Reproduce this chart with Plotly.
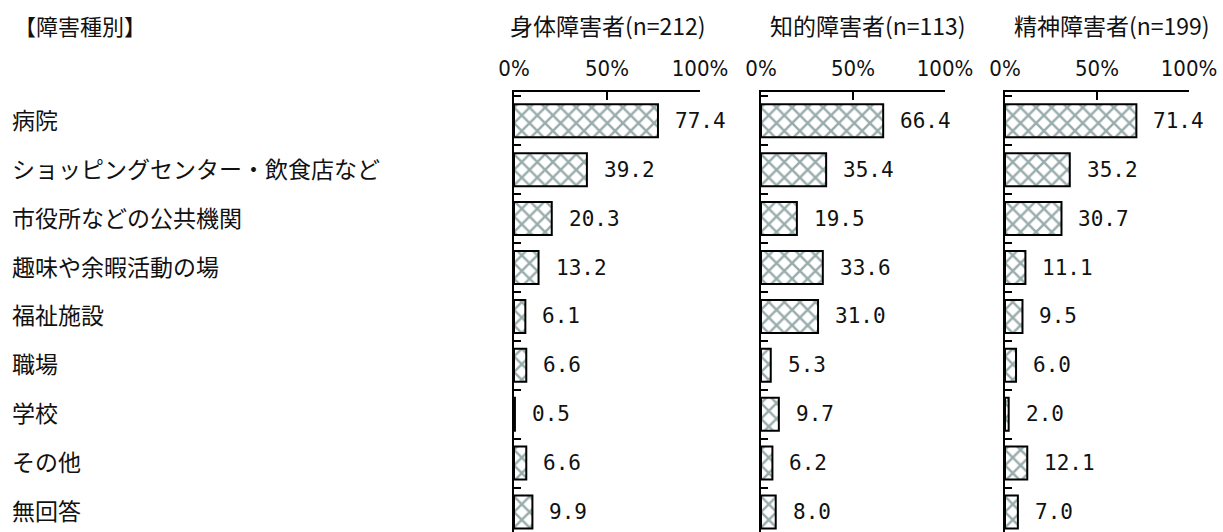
import plotly.graph_objects as go

# 項目
categories = ["病院", "ショッピングセンター・飲食店など", "市役所などの公共機関", "趣味や余暇活動の場",
              "福祉施設", "職場", "学校", "その他", "無回答"]
# 障害種別ごとの割合(%)
groups = ["身体障害者(n=212)", "知的障害者(n=113)", "精神障害者(n=199)"]
shintai = [77.4, 39.2, 20.3, 13.2, 6.1, 6.6, 0.5, 6.6, 9.9]
chiteki = [66.4, 35.4, 19.5, 33.6, 31.0, 5.3, 9.7, 6.2, 8.0]
seishin = [71.4, 35.2, 30.7, 11.1, 9.5, 6.0, 2.0, 12.1, 7.0]
x_ticks = [0, 50, 100]
x_tick_labels = ["0%", "50%", "100%"]

W, H = 1223, 532
panels = [(514, 700), (761, 945), (1005, 1189)]  # 各パネルの左右 (px)
title_cx = [608, 868, 1112]
top_px = 92

fig = go.Figure()
annotations = []
font_jp = "Noto Sans CJK JP"
font_num = "Liberation Sans Narrow, DejaVu Sans Condensed, sans-serif"

for i, (name, vals) in enumerate(zip(groups, [shintai, chiteki, seishin])):
    n = "" if i == 0 else str(i + 1)
    fig.add_trace(go.Bar(
        x=vals, y=categories, orientation="h",
        xaxis="x" + n, yaxis="y" + n,
        width=0.675,
        marker=dict(color="white",
                    line=dict(color="black", width=2),
                    pattern=dict(shape="x", fgcolor="#345a5a", bgcolor="white",
                                 size=11, solidity=0.4)),
        showlegend=False, hoverinfo="skip",
    ))
    x0, x1 = panels[i]
    fig.layout["xaxis" + n] = dict(
        domain=[x0 / W, x1 / W], range=[0, 100], side="top",
        anchor="y" + n, tickvals=x_ticks, ticktext=x_tick_labels,
        ticks="inside", ticklen=8, tickcolor="black", tickwidth=1.5,
        ticklabelstandoff=5, automargin=False,
        showline=True, linecolor="black", linewidth=1.5,
        showgrid=False, zeroline=False, fixedrange=True,
        tickfont=dict(family=font_num, size=22, color="#111"),
    )
    fig.layout["yaxis" + n] = dict(
        domain=[0, 1 - top_px / H], anchor="x" + n,
        type="category", categoryorder="array", categoryarray=categories,
        range=[8.41, -0.59], automargin=False,
        showticklabels=False, ticks="inside", ticklen=7, tickcolor="black", tickwidth=1.5,
        tickson="boundaries",
        showline=True, linecolor="black", linewidth=2,
        showgrid=False, zeroline=False, fixedrange=True,
    )
    # パネル見出し
    annotations.append(dict(
        text=name, xref="paper", yref="paper",
        x=title_cx[i] / W, y=1 - 25 / H, xanchor="center", yanchor="middle",
        showarrow=False, font=dict(family=font_jp, size=23, color="#111"),
    ))
    # 数値ラベル
    for c, v in zip(categories, vals):
        annotations.append(dict(
            text=f"{v:.1f}", xref="x" + n, yref="y" + n, x=v, y=c,
            xanchor="left", yanchor="middle", xshift=15, showarrow=False,
            font=dict(family="DejaVu Sans Mono", size=21, color="#111"),
        ))

# 項目ラベル
for c in categories:
    annotations.append(dict(
        text=c, xref="paper", yref="y", x=10 / W, y=c,
        xanchor="left", yanchor="middle", yshift=2, showarrow=False,
        font=dict(family=font_jp, size=23, color="#111"),
    ))

annotations.append(dict(
    text="【障害種別】", xref="paper", yref="paper", x=12 / W, y=1 - 25 / H,
    xanchor="left", yanchor="middle", showarrow=False,
    font=dict(family=font_jp, size=22, color="#111"),
))

fig.update_layout(
    width=W, height=H,
    margin=dict(l=0, r=0, t=0, b=0, pad=0, autoexpand=False),
    paper_bgcolor="white", plot_bgcolor="white",
    annotations=annotations,
)

fig.write_html("out.html", config={"displayModeBar": False},
               post_script="document.body.style.margin='0';document.body.style.overflow='hidden';")
